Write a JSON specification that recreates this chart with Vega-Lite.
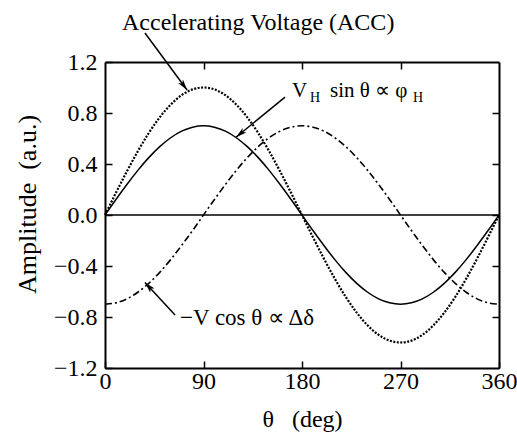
{
  "$schema": "https://vega.github.io/schema/vega-lite/v6.json",
  "width": 394,
  "height": 306,
  "autosize": "none",
  "padding": {"left": 105, "top": 62, "right": 18, "bottom": 68},
  "background": "white",
  "config": {
    "font": "Liberation Serif",
    "view": {"stroke": null},
    "axis": {"grid": false, "domainColor": "black", "domainWidth": 2, "tickColor": "black", "tickWidth": 1.5, "labelColor": "black", "titleColor": "black", "labelFont": "Liberation Serif", "titleFont": "Liberation Serif", "titleFontWeight": "normal"}
  },
  "title": {"text": "Accelerating Voltage (ACC)", "anchor": "start", "frame": "group", "dx": 17, "offset": -22, "baseline": "alphabetic", "fontSize": 24, "fontWeight": "normal", "font": "Liberation Serif", "color": "black"},
  "datasets": {
    "curves": [
      {"t": 0, "acc": 0, "vh": 0, "vc": -0.7},
      {"t": 10, "acc": 0.174, "vh": 0.122, "vc": -0.689},
      {"t": 20, "acc": 0.342, "vh": 0.239, "vc": -0.658},
      {"t": 30, "acc": 0.5, "vh": 0.35, "vc": -0.606},
      {"t": 40, "acc": 0.643, "vh": 0.45, "vc": -0.536},
      {"t": 50, "acc": 0.766, "vh": 0.536, "vc": -0.45},
      {"t": 60, "acc": 0.866, "vh": 0.606, "vc": -0.35},
      {"t": 70, "acc": 0.94, "vh": 0.658, "vc": -0.239},
      {"t": 80, "acc": 0.985, "vh": 0.689, "vc": -0.122},
      {"t": 90, "acc": 1, "vh": 0.7, "vc": 0},
      {"t": 100, "acc": 0.985, "vh": 0.689, "vc": 0.122},
      {"t": 110, "acc": 0.94, "vh": 0.658, "vc": 0.239},
      {"t": 120, "acc": 0.866, "vh": 0.606, "vc": 0.35},
      {"t": 130, "acc": 0.766, "vh": 0.536, "vc": 0.45},
      {"t": 140, "acc": 0.643, "vh": 0.45, "vc": 0.536},
      {"t": 150, "acc": 0.5, "vh": 0.35, "vc": 0.606},
      {"t": 160, "acc": 0.342, "vh": 0.239, "vc": 0.658},
      {"t": 170, "acc": 0.174, "vh": 0.122, "vc": 0.689},
      {"t": 180, "acc": 0, "vh": 0, "vc": 0.7},
      {"t": 190, "acc": -0.174, "vh": -0.122, "vc": 0.689},
      {"t": 200, "acc": -0.342, "vh": -0.239, "vc": 0.658},
      {"t": 210, "acc": -0.5, "vh": -0.35, "vc": 0.606},
      {"t": 220, "acc": -0.643, "vh": -0.45, "vc": 0.536},
      {"t": 230, "acc": -0.766, "vh": -0.536, "vc": 0.45},
      {"t": 240, "acc": -0.866, "vh": -0.606, "vc": 0.35},
      {"t": 250, "acc": -0.94, "vh": -0.658, "vc": 0.239},
      {"t": 260, "acc": -0.985, "vh": -0.689, "vc": 0.122},
      {"t": 270, "acc": -1, "vh": -0.7, "vc": 0},
      {"t": 280, "acc": -0.985, "vh": -0.689, "vc": -0.122},
      {"t": 290, "acc": -0.94, "vh": -0.658, "vc": -0.239},
      {"t": 300, "acc": -0.866, "vh": -0.606, "vc": -0.35},
      {"t": 310, "acc": -0.766, "vh": -0.536, "vc": -0.45},
      {"t": 320, "acc": -0.643, "vh": -0.45, "vc": -0.536},
      {"t": 330, "acc": -0.5, "vh": -0.35, "vc": -0.606},
      {"t": 340, "acc": -0.342, "vh": -0.239, "vc": -0.658},
      {"t": 350, "acc": -0.174, "vh": -0.122, "vc": -0.689},
      {"t": 360, "acc": 0, "vh": 0, "vc": -0.7}
    ],
    "arrows": [
      {"id": "acc", "x": 36.5, "y": 1.427, "x2": 75, "y2": 0.98},
      {"id": "vh", "x": 164.5, "y": 0.925, "x2": 119.7, "y2": 0.61},
      {"id": "vc", "x": 64, "y": -0.784, "x2": 36.5, "y2": -0.53}
    ],
    "labels": [
      {"x": 170.9, "y": 0.925, "text": "V"},
      {"x": 205.6, "y": 0.925, "text": "sin θ ∝ φ"}
    ],
    "biglabels": [
      {"x": 68.5, "y": -0.863, "text": "−V cos θ ∝ Δδ"}
    ],
    "subs": [
      {"x": 187.3, "y": 0.885, "text": "H"},
      {"x": 281.4, "y": 0.885, "text": "H"}
    ]
  },
  "resolve": {"axis": {"x": "independent", "y": "independent"}},
  "layer": [
    {
      "data": {"values": [{"z": 0}]},
      "mark": {"type": "rule", "color": "black", "strokeWidth": 1.5},
      "encoding": {
        "y": {"field": "z", "type": "quantitative", "scale": {"domain": [-1.2, 1.2], "nice": false, "zero": false}, "axis": null}
      }
    },
    {
      "data": {"name": "curves"},
      "mark": {"type": "line", "color": "black", "strokeWidth": 2.2, "strokeDash": [2, 1.5], "interpolate": "natural"},
      "encoding": {
        "x": {"field": "t", "type": "quantitative", "scale": {"domain": [0, 360], "nice": false, "zero": false},
          "axis": {"orient": "bottom", "values": [0, 90, 180, 270, 360], "tickSize": -7, "labelPadding": 8, "labelFontSize": 24, "labelFlush": false, "labelOverlap": false,
            "title": "θ\u00a0\u00a0\u00a0(deg)", "titleFontSize": 24, "titleBaseline": "alphabetic", "titleY": 58, "titleX": 197}},
        "y": {"field": "acc", "type": "quantitative", "scale": {"domain": [-1.2, 1.2], "nice": false, "zero": false},
          "axis": {"orient": "left", "values": [-1.2, -0.8, -0.4, 0, 0.4, 0.8, 1.2], "format": ".1f", "tickSize": -7, "labelPadding": 15, "labelFontSize": 24, "labelFlush": false, "labelOverlap": false,
            "title": "Amplitude\u00a0\u00a0(a.u.)", "titleFontSize": 26, "titleAngle": -90, "titleAlign": "center", "titleBaseline": "middle", "titleX": -78, "titleY": 142}}
      }
    },
    {
      "data": {"name": "curves"},
      "mark": {"type": "line", "color": "black", "strokeWidth": 1.5, "interpolate": "natural"},
      "encoding": {
        "x": {"field": "t", "type": "quantitative", "scale": {"domain": [0, 360], "nice": false, "zero": false},
          "axis": {"orient": "top", "values": [90, 180, 270], "tickSize": -7, "labels": false, "title": null}},
        "y": {"field": "vh", "type": "quantitative", "scale": {"domain": [-1.2, 1.2], "nice": false, "zero": false},
          "axis": {"orient": "right", "values": [-0.8, -0.4, 0, 0.4, 0.8], "tickSize": -7, "labels": false, "title": null}}
      }
    },
    {
      "data": {"name": "curves"},
      "mark": {"type": "line", "color": "black", "strokeWidth": 1.6, "strokeDash": [7, 3, 2, 3], "interpolate": "natural"},
      "encoding": {
        "x": {"field": "t", "type": "quantitative", "axis": null},
        "y": {"field": "vc", "type": "quantitative", "axis": null}
      }
    },
    {
      "data": {"name": "arrows"},
      "mark": {"type": "rule", "color": "black", "strokeWidth": 1.5},
      "encoding": {
        "x": {"field": "x", "type": "quantitative", "axis": null},
        "y": {"field": "y", "type": "quantitative", "axis": null},
        "x2": {"field": "x2"},
        "y2": {"field": "y2"}
      }
    },
    {
      "data": {"name": "arrows"},
      "transform": [{"filter": "datum.id === 'acc'"}],
      "mark": {"type": "point", "shape": "M0,0L-2,-0.55L-1.5,0L-2,0.55Z", "filled": true, "color": "black", "size": 121, "angle": 53.6, "opacity": 1},
      "encoding": {
        "x": {"field": "x2", "type": "quantitative", "axis": null},
        "y": {"field": "y2", "type": "quantitative", "axis": null}
      }
    },
    {
      "data": {"name": "arrows"},
      "transform": [{"filter": "datum.id === 'vh'"}],
      "mark": {"type": "point", "shape": "M0,0L-2,-0.55L-1.5,0L-2,0.55Z", "filled": true, "color": "black", "size": 121, "angle": 140.8, "opacity": 1},
      "encoding": {
        "x": {"field": "x2", "type": "quantitative", "axis": null},
        "y": {"field": "y2", "type": "quantitative", "axis": null}
      }
    },
    {
      "data": {"name": "arrows"},
      "transform": [{"filter": "datum.id === 'vc'"}],
      "mark": {"type": "point", "shape": "M0,0L-2,-0.55L-1.5,0L-2,0.55Z", "filled": true, "color": "black", "size": 121, "angle": 227, "opacity": 1},
      "encoding": {
        "x": {"field": "x2", "type": "quantitative", "axis": null},
        "y": {"field": "y2", "type": "quantitative", "axis": null}
      }
    },
    {
      "data": {"name": "labels"},
      "mark": {"type": "text", "align": "left", "baseline": "alphabetic", "fontSize": 21, "color": "black", "font": "Liberation Serif"},
      "encoding": {
        "x": {"field": "x", "type": "quantitative", "axis": null},
        "y": {"field": "y", "type": "quantitative", "axis": null},
        "text": {"field": "text"}
      }
    },
    {
      "data": {"name": "biglabels"},
      "mark": {"type": "text", "align": "left", "baseline": "alphabetic", "fontSize": 23, "color": "black", "font": "Liberation Serif"},
      "encoding": {
        "x": {"field": "x", "type": "quantitative", "axis": null},
        "y": {"field": "y", "type": "quantitative", "axis": null},
        "text": {"field": "text"}
      }
    },
    {
      "data": {"name": "subs"},
      "mark": {"type": "text", "align": "left", "baseline": "alphabetic", "fontSize": 14, "color": "black", "font": "Liberation Serif"},
      "encoding": {
        "x": {"field": "x", "type": "quantitative", "axis": null},
        "y": {"field": "y", "type": "quantitative", "axis": null},
        "text": {"field": "text"}
      }
    }
  ]
}
